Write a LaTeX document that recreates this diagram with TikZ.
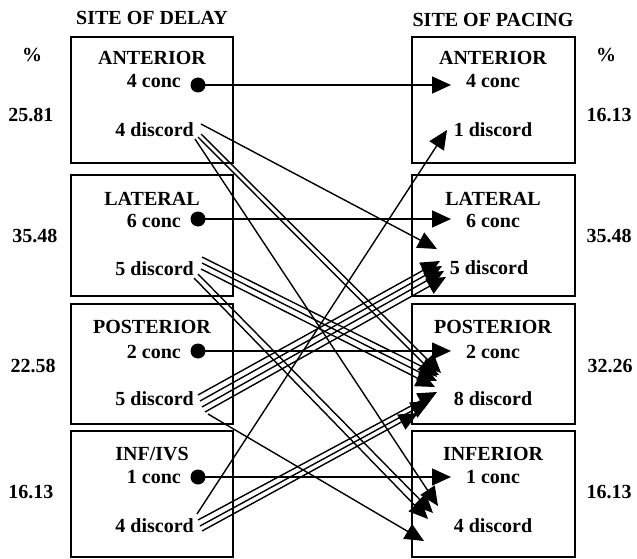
\documentclass[tikz,border=0pt]{standalone}
\usepackage{fontspec}
\setmainfont{Liberation Serif}
\usetikzlibrary{arrows.meta}
\begin{document}
\begin{tikzpicture}[x=1pt,y=-1pt,
  lbl/.style={font=\fontsize{20}{24}\selectfont\bfseries, inner sep=0pt, anchor=base},
  sitebox/.style={draw, line width=1.6pt, inner sep=0pt},
  dot/.style={circle, fill, inner sep=0pt, minimum size=15pt},
  conn/.style={line width=1.4pt, -{Triangle[length=19pt,width=17pt]}},
]
\useasboundingbox (0,0) rectangle (637,559);
\fill[white] (0,0) rectangle (637,559);

% column headings and percent signs
\node[lbl] (hDelay) at (152,25) {SITE OF DELAY};
\node[lbl] (hPace) at (493,27) {SITE OF PACING};
\node[lbl] (pctL) at (32,62) {\%};
\node[lbl] (pctR) at (606,62) {\%};

% site boxes
\node[sitebox, minimum width=162pt, minimum height=126pt] (bDA) at (152,100) {};
\node[sitebox, minimum width=162pt, minimum height=121pt] (bDL) at (152,235.5) {};
\node[sitebox, minimum width=162pt, minimum height=120pt] (bDP) at (152,364) {};
\node[sitebox, minimum width=162pt, minimum height=126pt] (bDI) at (152,494) {};
\node[sitebox, minimum width=163pt, minimum height=126pt] (bPA) at (493.5,100) {};
\node[sitebox, minimum width=163pt, minimum height=121pt] (bPL) at (493.5,235.5) {};
\node[sitebox, minimum width=163pt, minimum height=120pt] (bPP) at (493.5,364) {};
\node[sitebox, minimum width=163pt, minimum height=126pt] (bPI) at (493.5,494) {};

% percentages
\node[lbl] (pDA) at (31,122) {25.81};
\node[lbl] (pDL) at (35,242) {35.48};
\node[lbl] (pDP) at (33,372) {22.58};
\node[lbl] (pDI) at (31,498) {16.13};
\node[lbl] (pPA) at (609,122) {16.13};
\node[lbl] (pPL) at (609,242) {35.48};
\node[lbl] (pPP) at (610,372) {32.26};
\node[lbl] (pPI) at (609,498) {16.13};

% delay-site texts
\node[lbl] (tDA) at (152,65) {ANTERIOR};
\node[lbl, anchor=base east] (cDA) at (181,88) {4 conc};
\node[lbl, anchor=base east] (xDA) at (194,137) {4 discord};
\node[lbl] (tDL) at (152,205) {LATERAL};
\node[lbl, anchor=base east] (cDL) at (181,227) {6 conc};
\node[lbl, anchor=base east] (xDL) at (194,275) {5 discord};
\node[lbl] (tDP) at (152,333) {POSTERIOR};
\node[lbl, anchor=base east] (cDP) at (181,358) {2 conc};
\node[lbl, anchor=base east] (xDP) at (194,405) {5 discord};
\node[lbl] (tDI) at (152,460) {INF/IVS};
\node[lbl, anchor=base east] (cDI) at (181,483) {1 conc};
\node[lbl, anchor=base east] (xDI) at (194,532) {4 discord};

% pacing-site texts
\node[lbl] (tPA) at (493,65) {ANTERIOR};
\node[lbl] (cPA) at (493,88) {4 conc};
\node[lbl] (xPA) at (493,136) {1 discord};
\node[lbl] (tPL) at (493,205) {LATERAL};
\node[lbl] (cPL) at (493,227) {6 conc};
\node[lbl] (xPL) at (489,274) {5 discord};
\node[lbl] (tPP) at (493,333) {POSTERIOR};
\node[lbl] (cPP) at (493,358) {2 conc};
\node[lbl] (xPP) at (493,405) {8 discord};
\node[lbl] (tPI) at (493,460) {INFERIOR};
\node[lbl] (cPI) at (493,483) {1 conc};
\node[lbl] (xPI) at (493,532) {4 discord};

% concordant: dots and arrow tips
\node[dot] (dA) at (198,85) {};
\node[dot] (dL) at (198,219) {};
\node[dot] (dP) at (198,351) {};
\node[dot] (dI) at (198,477) {};
\coordinate (kA) at (451,85);
\coordinate (kL) at (451,219);
\coordinate (kP) at (451,351);
\coordinate (kI) at (451,477);
\draw[conn] (dA.center) -- (kA);
\draw[conn] (dL.center) -- (kL);
\draw[conn] (dP.center) -- (kP);
\draw[conn] (dI.center) -- (kI);

% discordant: line starts beside each delay label
\coordinate (aS1) at (201,124);
\coordinate (aS2) at (201,134);
\coordinate (aS3) at (198,137);
\coordinate (aS4) at (195,139);
\coordinate (lS1) at (202,257);
\coordinate (lS2) at (202,263);
\coordinate (lS3) at (201,269);
\coordinate (lS4) at (198,274);
\coordinate (lS5) at (194,278);
\coordinate (pS1) at (198,395);
\coordinate (pS2) at (200,401);
\coordinate (pS3) at (202,407);
\coordinate (pS4) at (205,412);
\coordinate (pS5) at (208,414);
\coordinate (iS1) at (197,514);
\coordinate (iS2) at (198,520);
\coordinate (iS3) at (200,526);
\coordinate (iS4) at (202,531);

% discordant: arrow tips beside each pacing label
\coordinate (tA1) at (447,130);
\coordinate (tL1) at (437,249);
\coordinate (tL2) at (440,261);
\coordinate (tL3) at (442,266);
\coordinate (tL4) at (444,271);
\coordinate (tL5) at (446,277);
\coordinate (tP1) at (441,373);
\coordinate (tP2) at (437,377);
\coordinate (tP3) at (439,375);
\coordinate (tP4) at (437,381);
\coordinate (tP5) at (435,387);
\coordinate (tP6) at (437,392);
\coordinate (tP7) at (430,401);
\coordinate (tP8) at (418,413);
\coordinate (tI1) at (438,506);
\coordinate (tI2) at (433,513);
\coordinate (tI3) at (428,519);
\coordinate (tI4) at (424,541);

% anterior delay
\draw[conn] (aS1) -- (tL1);
\draw[conn] (aS2) -- (tP1);
\draw[conn] (aS3) -- (tP2);
\draw[conn] (aS4) -- (tI1);
% lateral delay
\draw[conn] (lS1) -- (tP3);
\draw[conn] (lS2) -- (tP4);
\draw[conn] (lS3) -- (tP5);
\draw[conn] (lS4) -- (tI2);
\draw[conn] (lS5) -- (tI3);
% posterior delay
\draw[conn] (pS1) -- (tL2);
\draw[conn] (pS2) -- (tL3);
\draw[conn] (pS3) -- (tL4);
\draw[conn] (pS4) -- (tL5);
\draw[conn] (pS5) -- (tI4);
% inferior / IVS delay
\draw[conn] (iS1) -- (tA1);
\draw[conn] (iS2) -- (tP6);
\draw[conn] (iS3) -- (tP7);
\draw[conn] (iS4) -- (tP8);
\end{tikzpicture}
\end{document}
